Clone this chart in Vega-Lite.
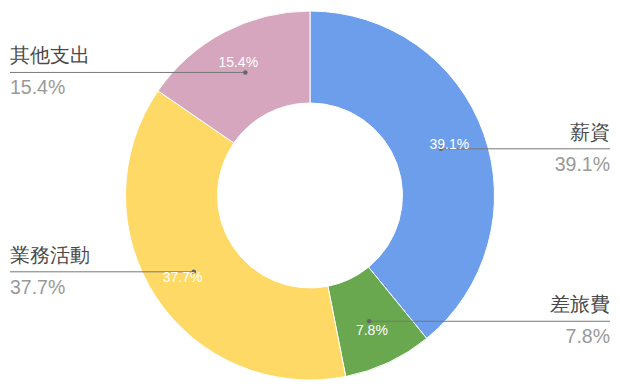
{
  "$schema": "https://vega.github.io/schema/vega-lite/v6.json",
  "width": 620,
  "height": 391,
  "autosize": {"type": "fit", "contains": "padding"},
  "padding": 0,
  "background": "white",
  "config": {"view": {"stroke": null}, "font": "Liberation Sans"},
  "data": {
    "values": [
      {"idx": 1, "name": "薪資", "value": 39.1, "pct": "39.1%"},
      {"idx": 2, "name": "差旅費", "value": 7.8, "pct": "7.8%"},
      {"idx": 3, "name": "業務活動", "value": 37.7, "pct": "37.7%"},
      {"idx": 4, "name": "其他支出", "value": 15.4, "pct": "15.4%"}
    ]
  },
  "transform": [
    {"joinaggregate": [{"op": "sum", "field": "value", "as": "total"}]},
    {"window": [{"op": "sum", "field": "value", "as": "cum"}], "sort": [{"field": "idx"}], "frame": [null, 0]},
    {"calculate": "2*PI*(datum.cum - datum.value/2)/datum.total", "as": "mid"},
    {"calculate": "139*sin(datum.mid)", "as": "px"},
    {"calculate": "139*cos(datum.mid)", "as": "py"},
    {"calculate": "150*sin(datum.mid)", "as": "tx"},
    {"calculate": "150*cos(datum.mid)", "as": "ty"},
    {"calculate": "datum.px > 0 ? 300 : -300", "as": "ex"}
  ],
  "layer": [
    {
      "mark": {"type": "arc", "outerRadius": 184.5, "innerRadius": 92.5, "stroke": "white", "strokeWidth": 1},
      "encoding": {
        "theta": {"field": "value", "type": "quantitative", "stack": true},
        "order": {"field": "idx", "type": "quantitative"},
        "color": {
          "field": "name", "type": "nominal", "legend": null,
          "scale": {"domain": ["薪資", "差旅費", "業務活動", "其他支出"], "range": ["#6d9eeb", "#6aa84f", "#ffd966", "#d5a6bd"]}
        }
      }
    },
    {
      "mark": {"type": "rule", "color": "#777777", "strokeWidth": 1},
      "encoding": {
        "x": {"field": "px", "type": "quantitative", "scale": {"domain": [-310, 310], "nice": false, "zero": false}, "axis": null},
        "x2": {"field": "ex"},
        "y": {"field": "py", "type": "quantitative", "scale": {"domain": [-195.5, 195.5], "nice": false, "zero": false}, "axis": null}
      }
    },
    {
      "mark": {"type": "point", "filled": true, "size": 20, "color": "#666666", "opacity": 1},
      "encoding": {
        "x": {"field": "px", "type": "quantitative"},
        "y": {"field": "py", "type": "quantitative"}
      }
    },
    {
      "mark": {"type": "text", "color": "white", "fontSize": 14, "baseline": "middle", "align": "center", "dx": -2},
      "encoding": {
        "x": {"field": "tx", "type": "quantitative"},
        "y": {"field": "ty", "type": "quantitative"},
        "text": {"field": "pct"}
      }
    },
    {
      "transform": [{"filter": "datum.ex > 0"}],
      "layer": [
        {
          "mark": {"type": "text", "align": "right", "baseline": "alphabetic", "dy": -10, "fontSize": 19.5, "color": "#4a4a4a"},
          "encoding": {"x": {"field": "ex", "type": "quantitative"}, "y": {"field": "py", "type": "quantitative"}, "text": {"field": "name"}}
        },
        {
          "mark": {"type": "text", "align": "right", "baseline": "alphabetic", "dy": 22, "fontSize": 19.5, "color": "#999999"},
          "encoding": {"x": {"field": "ex", "type": "quantitative"}, "y": {"field": "py", "type": "quantitative"}, "text": {"field": "pct"}}
        }
      ]
    },
    {
      "transform": [{"filter": "datum.ex < 0"}],
      "layer": [
        {
          "mark": {"type": "text", "align": "left", "baseline": "alphabetic", "dy": -10, "fontSize": 19.5, "color": "#4a4a4a"},
          "encoding": {"x": {"field": "ex", "type": "quantitative"}, "y": {"field": "py", "type": "quantitative"}, "text": {"field": "name"}}
        },
        {
          "mark": {"type": "text", "align": "left", "baseline": "alphabetic", "dy": 22, "fontSize": 19.5, "color": "#999999"},
          "encoding": {"x": {"field": "ex", "type": "quantitative"}, "y": {"field": "py", "type": "quantitative"}, "text": {"field": "pct"}}
        }
      ]
    }
  ]
}
